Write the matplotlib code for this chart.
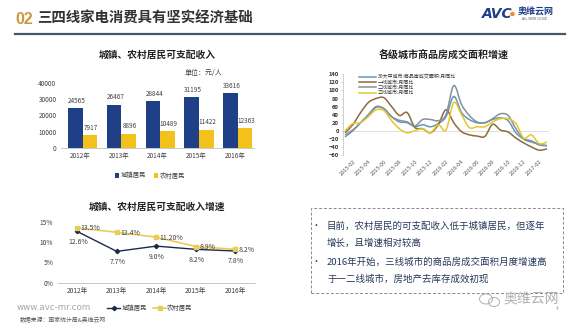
import numpy as np
import matplotlib
matplotlib.use('Agg')
import matplotlib.pyplot as plt
from matplotlib.path import Path
from matplotlib.patches import PathPatch, Rectangle, Ellipse
from matplotlib.lines import Line2D

plt.rcParams['font.family'] = ['Noto Sans CJK SC', 'DejaVu Sans']

# ---- data ----
years = ['2012年', '2013年', '2014年', '2015年', '2016年']
urban_income = [24565, 26467, 28844, 31195, 33616]
rural_income = [7917, 8896, 10489, 11422, 12363]

urban_growth = [12.6, 7.7, 9.0, 8.2, 7.8]
rural_growth = [13.5, 12.4, 11.2, 8.9, 8.2]
urban_growth_labels = ['12.6%', '7.7%', '9.0%', '8.2%', '7.8%']
rural_growth_labels = ['13.5%', '12.4%', '11.20%', '8.9%', '8.2%']

months = ['2015-01', '2015-02', '2015-03', '2015-04', '2015-05', '2015-06',
          '2015-07', '2015-08', '2015-09', '2015-10', '2015-11', '2015-12',
          '2016-01', '2016-02', '2016-03', '2016-04', '2016-05', '2016-06',
          '2016-07', '2016-08', '2016-09', '2016-10', '2016-11', '2016-12',
          '2017-01', '2017-02', '2017-03']
city30_yoy = [-15, 0, 20, 40, 60, 55, 35, 22, 20, 10, 15, 10, 18, 35, 85,
              45, 28, 20, 20, 28, 32, 25, -5, -20, -25, -35, -37]
tier1_yoy = [-5, 15, 45, 70, 80, 82, 60, 38, 45, 8, 5, -5, 15, 52, 20,
             -2, -10, -13, -14, 16, 2, -3, -18, -30, -40, -48, -45]
tier2_yoy = [-10, 2, 20, 38, 58, 55, 35, 26, 22, 12, 28, 28, 25, 40, 112,
             65, 38, 22, 20, 30, 42, 38, 5, -20, -28, -33, -37]
tier3_yoy = [0, 18, 20, 35, 52, 50, 25, 5, -5, 0, 5, -5, 15, 2, 70,
             40, 8, 10, 10, 22, 30, 30, 18, -18, -10, -32, -28]
series_names = ['30大中城市:商品房成交面积:月同比', '一线城市:月同比',
                '二线城市:月同比', '三线城市:月同比']

notes = ['目前，农村居民的可支配收入低于城镇居民，但逐年',
         '增长，且增速相对较高',
         '2016年开始，三线城市的商品房成交面积月度增速高',
         '于一二线城市，房地产去库存成效初现']

W, H = 580, 326
fig = plt.figure(figsize=(W / 100, H / 100), dpi=100)
fig.patch.set_facecolor('white')

NAVY = '#1f3f86'
GOLD = '#f2c11c'
TXT = '#404040'


def px_axes(l, t, r, b):
    return fig.add_axes([l / W, 1 - b / H, (r - l) / W, (b - t) / H])


def fx(x):
    return x / W


def fy(y):
    return 1 - y / H


def smooth_path(xs, ys):
    """Excel-like smoothed line as bezier path"""
    pts = np.column_stack([xs, ys]).astype(float)
    n = len(pts)
    verts = [pts[0]]
    codes = [Path.MOVETO]
    for i in range(n - 1):
        p0 = pts[max(i - 1, 0)]
        p1 = pts[i]
        p2 = pts[i + 1]
        p3 = pts[min(i + 2, n - 1)]
        verts += [p1 + (p2 - p0) / 6, p2 - (p3 - p1) / 6, p2]
        codes += [Path.CURVE4] * 3
    return Path(verts, codes)


# ---- header ----
fig.text(fx(15), fy(19.5), '02', color='#c99a3e', fontsize=11.5, fontweight='bold',
         va='center', ha='left', family=['Liberation Sans', 'DejaVu Sans'])
fig.text(fx(37), fy(19), '三四线家电消费具有坚实经济基础', color='#333333',
         fontsize=10.4, fontweight='bold', va='center', ha='left')
fig.add_artist(Line2D([fx(15), fx(565)], [fy(34.3), fy(34.3)], color='#41596b', lw=1.6))
fig.text(fx(482), fy(14), 'AVC', color='#1d3e8a', fontsize=10, fontweight='bold',
         fontstyle='italic', va='center', ha='left', family=['DejaVu Sans'])
fig.add_artist(Ellipse((fx(512.5), fy(14)), 3 / W, 3 / H, color='#f08a1c'))
fig.text(fx(518), fy(12.5), '奥维云网', color='#1d3e8a', fontsize=6.5,
         fontweight='bold', va='center', ha='left')
fig.text(fx(535), fy(18.5), 'ALL VIEW CLOUD', color='#555555', fontsize=2.2,
         va='center', ha='center', family=['DejaVu Sans'])

# ---- income bars ----
fig.text(fx(157), fy(55), '城镇、农村居民可支配收入', fontsize=7, fontweight='bold',
         color='#222222', ha='center', va='center')
fig.text(fx(185), fy(73), '单位：元/人', fontsize=5, color=TXT, ha='left', va='center')

ax1 = px_axes(60.6, 82.7, 254.4, 148.3)
x = np.arange(len(years))
bw = 0.375
b1 = ax1.bar(x - bw / 2 + 0.07, urban_income, bw, color=NAVY, label='城镇居民')
b2 = ax1.bar(x + bw / 2 + 0.07, rural_income, bw, color=GOLD, label='农村居民')
for bars, vals in ((b1, urban_income), (b2, rural_income)):
    for rect, v in zip(bars, vals):
        ax1.annotate(str(v), (rect.get_x() + rect.get_width() / 2, v),
                     xytext=(1, 2.5), textcoords='offset points', ha='center',
                     va='bottom', fontsize=4.6, color=TXT)
ax1.set_xlim(-0.5, 4.5)
ax1.set_ylim(0, 40000)
ax1.set_yticks([0, 10000, 20000, 30000, 40000])
ax1.set_xticks(x)
ax1.set_xticklabels(years)
for s in ('top', 'right', 'left'):
    ax1.spines[s].set_visible(False)
ax1.spines['bottom'].set_color('#bfbfbf')
ax1.spines['bottom'].set_linewidth(0.6)
ax1.tick_params(length=0, labelsize=4.6, colors=TXT, pad=3)
ax1.patch.set_alpha(0)
ax1.legend(loc='center', bbox_to_anchor=(fx(150), fy(175.5)),
           bbox_transform=fig.transFigure, ncol=2, frameon=False, fontsize=4.6,
           handlelength=0.7, handleheight=0.7, handletextpad=0.2, columnspacing=1.2,
           labelcolor=TXT)

# ---- growth lines ----
fig.text(fx(157), fy(207), '城镇、农村居民可支配收入增速', fontsize=7, fontweight='bold',
         color='#222222', ha='center', va='center')
ax2 = px_axes(57.5, 221.7, 255, 282.7)
ax2.plot(x, urban_growth, color='#1c2b4a', lw=1.0, marker='D', ms=2.2, label='城镇居民')
ax2.plot(x, rural_growth, color='#e9cd5a', lw=1.2, marker='s', ms=3.2, label='农村居民')
for xi, v, lab in zip(x, urban_growth, urban_growth_labels):
    ax2.annotate(lab, (xi, v), xytext=(0.5, -7.5), textcoords='offset points',
                 ha='center', va='center', fontsize=5, color=TXT)
for xi, v, lab in zip(x, rural_growth, rural_growth_labels):
    ax2.annotate(lab, (xi, v), xytext=(2.5, -0.5), textcoords='offset points',
                 ha='left', va='center', fontsize=5, color=TXT)
ax2.set_xlim(-0.5, 4.5)
ax2.set_ylim(0, 15)
ax2.set_yticks([0, 5, 10, 15])
ax2.set_yticklabels(['0%', '5%', '10%', '15%'])
ax2.set_xticks(x)
ax2.set_xticklabels(years)
for s in ('top', 'right', 'left'):
    ax2.spines[s].set_visible(False)
ax2.spines['bottom'].set_color('#bfbfbf')
ax2.spines['bottom'].set_linewidth(0.6)
ax2.tick_params(length=0, labelsize=4.8, colors=TXT, pad=3)
ax2.patch.set_alpha(0)
ax2.legend(loc='center', bbox_to_anchor=(fx(150), fy(308)),
           bbox_transform=fig.transFigure, ncol=2, frameon=False, fontsize=4.6,
           handlelength=2.0, handletextpad=0.2, columnspacing=1.0, labelcolor=TXT)

fig.text(fx(17), fy(307), 'www.avc-mr.com', fontsize=6.3, color='#a6a6a6',
         ha='left', va='center', family=['DejaVu Sans'])
fig.text(fx(20), fy(320), '数据来源：国家统计局&奥维云网', fontsize=4.2, color='#555555',
         ha='left', va='center')

# ---- housing yoy ----
fig.text(fx(444), fy(55), '各级城市商品房成交面积增速', fontsize=7.2, fontweight='bold',
         color='#222222', ha='center', va='center')
ax3 = px_axes(343, 74.3, 549, 155)
idx = np.arange(len(months))
line_colors = ['#6a96b8', '#8c6c3c', '#8591a0', '#e6c72a']
handles = []
for vals, c, name in zip((city30_yoy, tier1_yoy, tier2_yoy, tier3_yoy), line_colors, series_names):
    ax3.add_patch(PathPatch(smooth_path(idx, vals), fill=False, edgecolor=c, lw=1.1))
    handles.append(Line2D([], [], color=c, lw=1.1, label=name))
ax3.axhline(0, color='#d9d9d9', lw=0.6, zorder=0)
ax3.set_xlim(-0.26, 26.26)
ax3.set_ylim(-60, 140)
ax3.set_yticks(np.arange(-60, 141, 20))
ax3.set_xticks(idx[1::2])
ax3.set_xticklabels(months[1::2], rotation=45, ha='right', rotation_mode='anchor')
for s in ('top', 'right', 'bottom'):
    ax3.spines[s].set_visible(False)
ax3.spines['left'].set_color('#bfbfbf')
ax3.spines['left'].set_linewidth(0.5)
ax3.tick_params(axis='y', length=1.5, width=0.4, color='#bfbfbf', labelsize=4.2,
                labelcolor='#333333', pad=1.5)
ax3.tick_params(axis='x', length=0, labelsize=4.0, labelcolor='#555555', pad=3)
for t in ax3.get_yticklabels():
    t.set_fontweight('bold')
ax3.patch.set_alpha(0)
ax3.legend(handles=handles, loc='upper left', bbox_to_anchor=(fx(356), fy(72)),
           bbox_transform=fig.transFigure, frameon=False, fontsize=3.6,
           handlelength=3.4, handletextpad=0.4, labelspacing=0.05, borderpad=0,
           labelcolor='#333333')

# ---- notes box ----
fig.add_artist(Rectangle((fx(310.7), fy(293)), (563 - 310.7) / W, (293 - 208) / H,
                         fill=False, edgecolor='#8a8a8a', lw=0.7, linestyle=(0, (3, 2))))
note_y = [226, 243.3, 261.7, 279.3]
for ny, line in zip(note_y, notes):
    fig.text(fx(327), fy(ny), line, fontsize=6.8, color='#26375a', ha='left', va='center')
for ny in (note_y[0], note_y[2]):
    fig.text(fx(316), fy(ny), '•', fontsize=6.5, color='#26375a', ha='center', va='center')

# ---- watermark ----
fig.add_artist(Ellipse((fx(486), fy(299)), 13 / W, 10 / H, fill=False,
                       edgecolor='#b0b0b0', lw=0.7))
fig.add_artist(Ellipse((fx(494), fy(302)), 11 / W, 9 / H, fill=False,
                       edgecolor='#b0b0b0', lw=0.7))
fig.text(fx(503), fy(299), '奥维云网', fontsize=10, color='#b0b0b0', ha='left', va='center')
fig.text(fx(557), fy(309), '4', fontsize=3.5, color='#999999', ha='center', va='center')

fig.savefig('out.png', dpi=100)
